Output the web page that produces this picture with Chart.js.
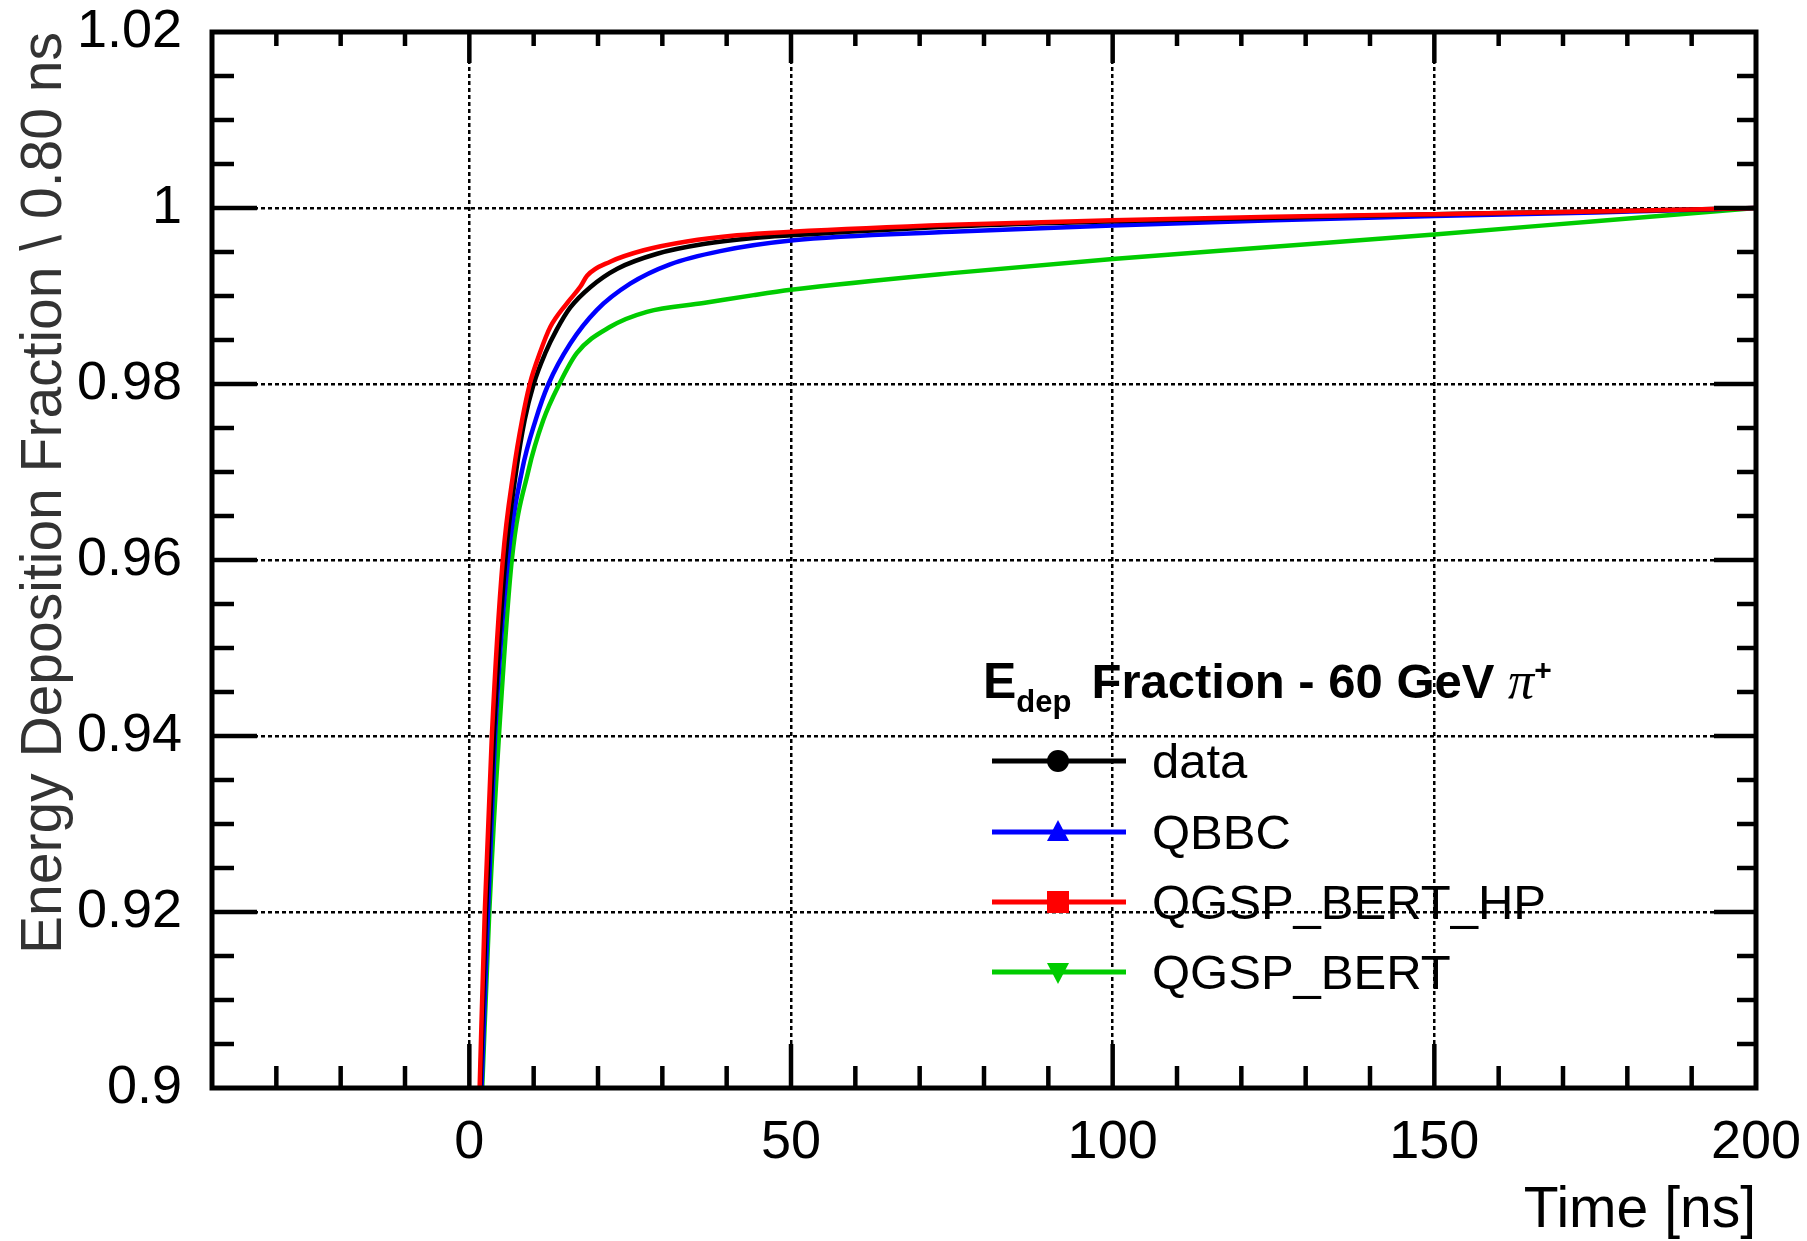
<!DOCTYPE html>
<html>
<head>
<meta charset="utf-8">
<script src="https://cdn.jsdelivr.net/npm/chart.js@4.4.1/dist/chart.umd.min.js"></script>
<style>
  html, body { margin: 0; padding: 0; background: #fff; }
  #wrap { width: 1807px; height: 1241px; }
</style>
</head>
<body>
<div id="wrap"><canvas id="chart" width="1807" height="1241"></canvas></div>
<script>
// values (time in ns, cumulative energy fraction)
const seriesNames = ["data", "QBBC", "QGSP_BERT_HP", "QGSP_BERT"];

const dataTime = [1.7, 2.6, 3.8, 5.6, 7.3, 8.6, 10.0, 11.8, 13.6, 15.7, 18.8, 23.0, 29.2, 36.4, 44.2, 50, 75, 100, 125, 150, 175, 200];
const dataFrac = [0.900, 0.920, 0.940, 0.960, 0.9702, 0.9759, 0.980, 0.9835, 0.9862, 0.9887, 0.9910, 0.9931, 0.9948, 0.9959, 0.9966, 0.9969, 0.9979, 0.9985, 0.9989, 0.9993, 0.9996, 1.000];

const qbbcTime = [1.9, 2.9, 4.0, 6.0, 8.2, 10.3, 12.3, 15.7, 19.8, 25.0, 31.2, 39.0, 50, 75, 100, 125, 150, 175, 200];
const qbbcFrac = [0.900, 0.920, 0.940, 0.960, 0.9702, 0.9759, 0.980, 0.9846, 0.9884, 0.9914, 0.9936, 0.9951, 0.9963, 0.9973, 0.9980, 0.9986, 0.9991, 0.9995, 1.000];

const hpTime = [1.6, 2.4, 3.5, 5.2, 6.9, 8.2, 9.4, 11.0, 12.6, 15.2, 17.3, 18.3, 21.9, 27.1, 33.8, 41.6, 50, 75, 100, 125, 150, 175, 200];
const hpFrac = [0.900, 0.920, 0.940, 0.960, 0.9702, 0.9759, 0.980, 0.9836, 0.9865, 0.9892, 0.9911, 0.9923, 0.9939, 0.9952, 0.9962, 0.9969, 0.9973, 0.9981, 0.9986, 0.9990, 0.9993, 0.9996, 1.000];

const bertTime = [2.0, 3.1, 4.6, 6.6, 9.2, 11.5, 14.0, 16.7, 21.9, 27.6, 36.4, 44.2, 50, 75, 100, 125, 150, 175, 200];
const bertFrac = [0.900, 0.920, 0.940, 0.960, 0.9702, 0.9759, 0.980, 0.9835, 0.9865, 0.9882, 0.9892, 0.9901, 0.9907, 0.9926, 0.9942, 0.9956, 0.9970, 0.9985, 1.000];

const xTickValues = [0, 50, 100, 150, 200];
const yTickValues = [0.9, 0.92, 0.94, 0.96, 0.98, 1, 1.02];

const colors = ["#000000", "#0000ff", "#ff0000", "#00cc00"];
const markers = ["circle", "triangle", "rect", "invTriangle"];

function toPoints(ts, vs) {
  return ts.map((t, i) => ({ x: t, y: vs[i] }));
}

const seriesData = [
  toPoints(dataTime, dataFrac),
  toPoints(qbbcTime, qbbcFrac),
  toPoints(hpTime, hpFrac),
  toPoints(bertTime, bertFrac)
];

// red on top, then black, blue, green
const drawOrder = [1, 2, 0, 3];

const labelFont = { family: "'Liberation Sans', Arial, sans-serif", size: 54 };
const titleFont = { family: "'Liberation Sans', Arial, sans-serif", size: 57 };

function line(ctx, x1, y1, x2, y2) {
  ctx.beginPath();
  ctx.moveTo(x1, y1);
  ctx.lineTo(x2, y2);
  ctx.stroke();
}

function drawMarker(ctx, kind, cx, cy, color) {
  ctx.fillStyle = color;
  ctx.beginPath();
  if (kind === "circle") {
    ctx.arc(cx, cy, 11, 0, Math.PI * 2);
  } else if (kind === "triangle") {
    ctx.moveTo(cx, cy - 12);
    ctx.lineTo(cx + 11, cy + 9);
    ctx.lineTo(cx - 11, cy + 9);
  } else if (kind === "rect") {
    ctx.rect(cx - 11, cy - 11, 22, 22);
  } else {
    ctx.moveTo(cx, cy + 12);
    ctx.lineTo(cx + 11, cy - 9);
    ctx.lineTo(cx - 11, cy - 9);
  }
  ctx.closePath();
  ctx.fill();
}

const rootFrame = {
  id: "rootFrame",
  afterDraw(chart) {
    const { ctx, chartArea: a, scales: { x, y } } = chart;
    ctx.save();
    ctx.strokeStyle = "#000";
    ctx.lineWidth = 5;
    ctx.strokeRect(a.left, a.top, a.right - a.left, a.bottom - a.top);

    // tick marks pointing inwards on all four sides
    ctx.lineWidth = 4.5;
    for (let v = -30; v < 200; v += 10) {
      const px = x.getPixelForValue(v);
      const major = v % 50 === 0;
      line(ctx, px, a.bottom, px, a.bottom - (major ? 44 : 22));
      line(ctx, px, a.top, px, a.top + (major ? 31 : 14));
    }
    for (let i = 1; i < 24; i++) {
      const py = y.getPixelForValue(0.9 + i * 0.005);
      const major = i % 4 === 0;
      line(ctx, a.left, py, a.left + (major ? 45 : 22), py);
      line(ctx, a.right, py, a.right - (major ? 42 : 19), py);
    }

    // legend
    const lx = 983;
    ctx.fillStyle = "#000";
    ctx.textBaseline = "alphabetic";
    ctx.textAlign = "left";
    ctx.font = "bold 50px 'Liberation Sans', Arial, sans-serif";
    ctx.fillText("E", lx, 698);
    let cx = lx + ctx.measureText("E").width;
    ctx.font = "bold 31px 'Liberation Sans', Arial, sans-serif";
    ctx.fillText("dep", cx, 712);
    cx += ctx.measureText("dep").width + 20;
    ctx.font = "bold 49px 'Liberation Sans', Arial, sans-serif";
    ctx.fillText("Fraction - 60 GeV ", cx, 698);
    cx += ctx.measureText("Fraction - 60 GeV ").width;
    ctx.font = "italic 52px 'Liberation Serif', 'Times New Roman', serif";
    ctx.fillText("\u03c0", cx, 698);
    cx += ctx.measureText("\u03c0").width;
    ctx.font = "bold 30px 'Liberation Sans', Arial, sans-serif";
    ctx.fillText("+", cx, 680);

    const rowY = [761, 832, 902, 972];
    ctx.font = "49px 'Liberation Sans', Arial, sans-serif";
    seriesNames.forEach((name, i) => {
      const ry = rowY[i];
      ctx.strokeStyle = colors[i];
      ctx.lineWidth = 5;
      line(ctx, 992, ry, 1126, ry);
      drawMarker(ctx, markers[i], 1058, ry, colors[i]);
      ctx.fillStyle = "#000";
      ctx.fillText(name, 1152, ry + 17);
    });
    ctx.restore();
  }
};

new Chart(document.getElementById("chart"), {
  type: "line",
  data: {
    datasets: seriesNames.map((name, i) => ({
      label: name,
      data: seriesData[i],
      borderColor: colors[i],
      backgroundColor: colors[i],
      borderWidth: 4.5,
      pointRadius: 0,
      fill: false,
      cubicInterpolationMode: "monotone",
      order: drawOrder[i]
    }))
  },
  options: {
    responsive: false,
    devicePixelRatio: 1,
    animation: false,
    layout: { padding: { left: 0, top: 32, right: 51, bottom: 0 } },
    plugins: { legend: { display: false }, tooltip: { enabled: false } },
    scales: {
      x: {
        type: "linear",
        min: -40,
        max: 200,
        afterBuildTicks: (s) => { s.ticks = xTickValues.map(v => ({ value: v })); },
        afterFit: (s) => { s.height = 153; s.paddingLeft = 0; s.paddingRight = 0; },
        ticks: { color: "#000", font: labelFont, padding: 23, maxRotation: 0, autoSkip: false },
        grid: { color: "#000", lineWidth: 2.5, drawTicks: false },
        border: { display: false, dash: [4, 3] },
        title: { display: true, text: "Time [ns]", align: "end", color: "#000", font: { ...titleFont, lineHeight: 1.05 }, padding: { top: 0, bottom: 0 } }
      },
      y: {
        type: "linear",
        min: 0.9,
        max: 1.02,
        afterBuildTicks: (s) => { s.ticks = yTickValues.map(v => ({ value: v })); },
        afterFit: (s) => { s.width = 212; s.paddingTop = 0; s.paddingBottom = 0; },
        ticks: { color: "#000", font: labelFont, padding: 30, callback: (v) => String(v) },
        grid: { color: "#000", lineWidth: 2.5, drawTicks: false },
        border: { display: false, dash: [4, 3] },
        title: { display: true, text: "Energy Deposition Fraction \\ 0.80 ns", align: "end", color: "#333", font: titleFont, padding: { top: 11, bottom: 0 } }
      }
    }
  },
  plugins: [rootFrame]
});
</script>
</body>
</html>
